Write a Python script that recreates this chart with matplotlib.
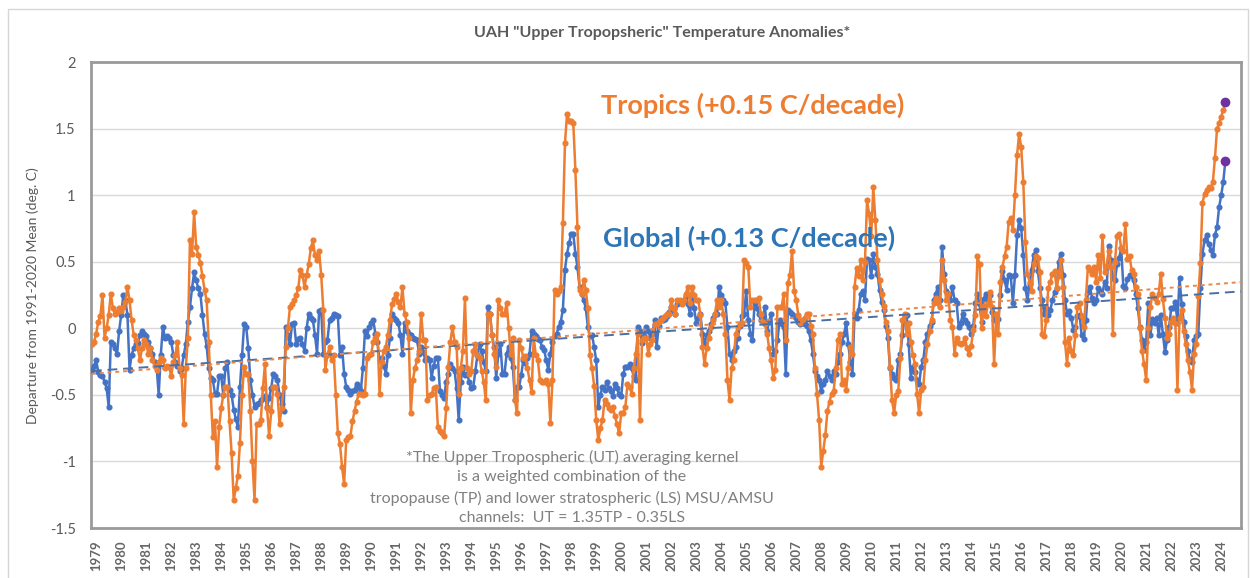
import numpy as np
import matplotlib.pyplot as plt
from matplotlib.patches import Rectangle

plt.rcParams['font.family'] = ['Lato', 'DejaVu Sans']

# monthly anomalies, deg C, Jan 1979 .. May 2024 (one row per year)
tropics = [
    -0.12, -0.10, -0.04, 0.05, 0.09, 0.25, -0.07, 0.00, 0.10, 0.26, 0.15, 0.11,
    0.12, 0.15, 0.13, 0.16, 0.20, 0.31, 0.21, 0.06, -0.05, -0.09, -0.15, -0.24,
    -0.15, -0.09, -0.12, -0.19, -0.15, -0.24, -0.28, -0.31, -0.25, -0.22, -0.24, -0.30,
    -0.28, -0.29, -0.36, -0.25, -0.20, -0.10, -0.30, -0.35, -0.72, -0.30, -0.07, 0.66,
    0.56, 0.87, 0.61, 0.55, 0.49, 0.39, 0.29, 0.21, -0.10, -0.50, -0.82, -0.70,
    -1.04, -0.74, -0.60, -0.50, -0.44, -0.44, -0.70, -0.94, -1.29, -1.20, -1.11, -0.86,
    -0.50, -0.29, -0.34, -0.34, -0.62, -1.00, -1.29, -0.72, -0.72, -0.69, -0.45, -0.27,
    -0.60, -0.81, -0.62, -0.44, -0.44, -0.49, -0.72, -0.60, -0.44, -0.14, 0.00, 0.16,
    0.18, 0.21, 0.25, 0.30, 0.44, 0.40, 0.31, 0.40, 0.48, 0.60, 0.66, 0.55,
    0.51, 0.58, 0.40, 0.14, -0.31, -0.20, -0.14, -0.24, -0.20, -0.50, -0.79, -0.87,
    -1.04, -1.17, -0.84, -0.82, -0.81, -0.70, -0.62, -0.55, -0.49, -0.49, -0.50, -0.49,
    -0.22, -0.20, -0.19, -0.10, -0.07, -0.04, -0.49, -0.25, -0.17, -0.14, -0.05, 0.06,
    0.18, 0.22, 0.26, 0.20, 0.16, 0.31, 0.11, 0.05, -0.07, -0.64, -0.39, -0.30,
    -0.24, -0.17, 0.11, -0.09, -0.09, -0.54, -0.50, -0.49, -0.45, -0.44, -0.74, -0.77,
    -0.79, -0.81, -0.60, -0.29, -0.10, 0.01, -0.10, -0.14, -0.49, -0.30, -0.17, 0.23,
    -0.30, -0.34, -0.32, -0.17, -0.12, -0.20, -0.22, -0.32, -0.40, -0.54, 0.11, 0.11,
    -0.05, -0.19, -0.29, 0.21, 0.15, 0.11, 0.11, 0.19, 0.00, -0.19, -0.07, -0.54,
    -0.64, -0.09, -0.15, -0.22, -0.21, -0.30, -0.39, -0.48, -0.07, -0.20, -0.24, -0.39,
    -0.40, -0.40, -0.39, -0.42, -0.71, -0.39, 0.29, 0.26, 0.28, 0.31, 0.79, 1.39,
    1.61, 1.56, 1.56, 1.54, 1.19, 0.76, 0.29, 0.26, 0.36, 0.29, 0.15, -0.20,
    -0.30, -0.43, -0.69, -0.84, -0.75, -0.69, -0.54, -0.57, -0.60, -0.61, -0.59, -0.66,
    -0.72, -0.79, -0.64, -0.64, -0.59, -0.42, -0.44, -0.49, -0.30, -0.19, -0.04, -0.69,
    -0.09, -0.07, -0.07, -0.19, -0.12, -0.09, 0.03, 0.03, 0.05, 0.06, 0.08, 0.09,
    0.11, 0.11, 0.21, 0.15, 0.11, 0.21, 0.21, 0.18, 0.21, 0.26, 0.31, 0.19,
    0.31, 0.25, 0.21, 0.21, 0.10, -0.14, -0.27, -0.15, -0.07, 0.01, 0.06, 0.11,
    0.21, 0.16, 0.21, 0.11, -0.04, -0.39, -0.54, -0.30, -0.24, -0.04, 0.01, 0.03,
    0.04, 0.51, 0.49, 0.46, 0.16, 0.21, 0.21, 0.21, 0.23, 0.11, 0.05, 0.03,
    -0.04, -0.15, -0.24, -0.37, -0.31, 0.16, 0.16, 0.16, 0.26, -0.09, 0.34, 0.40,
    0.58, 0.28, 0.21, 0.10, 0.04, 0.06, 0.08, 0.11, 0.11, 0.02, -0.04, -0.30,
    -0.49, -0.69, -1.04, -0.92, -0.80, -0.62, -0.55, -0.49, -0.47, -0.30, -0.09, -0.04,
    -0.42, -0.39, -0.46, -0.30, -0.14, -0.19, 0.31, 0.45, 0.39, 0.51, 0.36, 0.50,
    0.96, 0.86, 0.69, 1.06, 0.81, 0.51, 0.36, 0.26, 0.17, 0.05, -0.02, -0.29,
    -0.54, -0.64, -0.50, -0.47, -0.22, 0.06, 0.11, -0.04, 0.04, -0.10, -0.20, -0.27,
    -0.49, -0.64, -0.46, -0.44, -0.24, -0.12, -0.02, 0.06, 0.19, 0.23, 0.19, 0.16,
    0.51, 0.36, 0.21, 0.26, 0.06, 0.01, -0.19, -0.07, -0.11, -0.12, -0.11, -0.07,
    -0.15, -0.19, -0.13, -0.01, 0.10, 0.54, 0.48, 0.00, 0.17, 0.09, 0.18, 0.27,
    0.16, -0.27, 0.11, -0.04, 0.35, 0.46, 0.54, 0.61, 0.80, 0.83, 0.74, 1.00,
    1.30, 1.46, 1.36, 1.10, 0.65, 0.41, 0.35, 0.28, 0.48, 0.54, 0.53, 0.42,
    -0.04, -0.06, 0.06, 0.30, 0.35, 0.41, 0.43, 0.30, 0.39, 0.51, 0.31, -0.10,
    -0.27, -0.07, -0.17, -0.20, -0.05, 0.16, 0.19, 0.09, 0.01, 0.21, 0.46, 0.44,
    0.41, 0.46, 0.35, 0.55, 0.38, 0.69, 0.42, 0.47, 0.58, 0.46, -0.04, 0.50,
    0.69, 0.71, 0.60, 0.58, 0.78, 0.52, 0.54, 0.44, 0.41, 0.31, 0.26, 0.00,
    -0.17, -0.27, -0.39, 0.00, 0.16, 0.26, 0.23, 0.20, 0.26, 0.41, 0.22, 0.08,
    -0.07, -0.04, 0.05, 0.08, 0.04, -0.46, 0.08, 0.14, -0.02, -0.12, -0.24, -0.33,
    -0.46, -0.19, -0.12, 0.24, 0.49, 0.94, 1.01, 1.04, 1.06, 1.05, 1.10, 1.28,
    1.50, 1.54, 1.59, 1.64, 1.70,
]

global_ = [
    -0.31, -0.28, -0.24, -0.33, -0.35, -0.36, -0.40, -0.45, -0.59, -0.10, -0.12, -0.15,
    -0.19, -0.02, 0.10, 0.25, 0.21, 0.10, -0.31, -0.20, -0.15, -0.12, -0.11, -0.05,
    -0.02, -0.04, -0.06, -0.10, -0.15, -0.19, -0.25, -0.29, -0.50, -0.20, 0.01, -0.07,
    -0.06, -0.07, -0.10, -0.20, -0.25, -0.28, -0.32, -0.30, -0.20, -0.12, 0.05, 0.16,
    0.30, 0.42, 0.36, 0.30, 0.26, 0.10, -0.04, -0.13, -0.30, -0.37, -0.39, -0.49,
    -0.49, -0.36, -0.36, -0.50, -0.30, -0.25, -0.46, -0.50, -0.61, -0.68, -0.74, -0.44,
    -0.20, 0.03, 0.01, -0.15, -0.39, -0.50, -0.59, -0.57, -0.56, -0.54, -0.52, -0.51,
    -0.59, -0.52, -0.45, -0.34, -0.36, -0.39, -0.50, -0.57, -0.62, 0.01, -0.05, -0.12,
    0.03, 0.04, -0.12, -0.08, -0.07, -0.12, -0.17, 0.00, 0.11, 0.08, 0.06, -0.05,
    -0.19, 0.13, 0.14, -0.19, -0.10, -0.09, 0.06, 0.08, 0.11, 0.10, 0.09, -0.20,
    -0.14, -0.34, -0.44, -0.46, -0.49, -0.47, -0.46, -0.42, -0.44, -0.47, -0.30, -0.02,
    -0.06, 0.01, 0.04, 0.06, -0.04, -0.10, -0.24, -0.22, -0.28, -0.34, -0.20, -0.07,
    0.11, 0.08, 0.06, 0.04, -0.05, -0.19, 0.04, -0.02, -0.04, -0.05, -0.07, -0.08,
    -0.09, -0.19, -0.14, -0.18, -0.24, -0.22, -0.24, -0.37, -0.28, -0.22, -0.22, -0.47,
    -0.50, -0.52, -0.40, -0.34, -0.27, -0.30, -0.32, -0.45, -0.69, -0.40, -0.29, -0.35,
    -0.34, -0.40, -0.45, -0.44, -0.32, -0.20, -0.12, -0.17, -0.25, -0.32, 0.16, 0.11,
    -0.05, -0.14, -0.37, -0.19, -0.12, -0.34, -0.34, -0.19, -0.14, -0.22, -0.29, -0.54,
    -0.44, -0.44, -0.35, -0.24, -0.26, -0.22, -0.19, -0.02, -0.04, -0.06, -0.08, -0.09,
    -0.14, -0.16, -0.24, -0.31, -0.19, -0.10, -0.06, -0.04, 0.01, 0.05, 0.14, 0.44,
    0.56, 0.64, 0.71, 0.71, 0.56, 0.46, 0.31, 0.26, 0.21, 0.15, 0.01, -0.06,
    -0.05, -0.14, -0.24, -0.59, -0.50, -0.44, -0.46, -0.40, -0.45, -0.47, -0.51, -0.42,
    -0.45, -0.49, -0.51, -0.34, -0.29, -0.29, -0.27, -0.30, -0.36, -0.39, 0.01, -0.02,
    -0.11, -0.06, 0.01, -0.02, -0.07, -0.04, 0.06, -0.14, 0.02, 0.08, 0.06, 0.07,
    0.09, 0.12, 0.16, 0.13, 0.11, 0.18, 0.19, 0.19, 0.21, 0.24, 0.18, 0.11,
    0.23, 0.15, 0.04, 0.08, 0.11, -0.04, -0.12, -0.05, -0.02, 0.03, 0.08, 0.11,
    0.11, 0.31, 0.25, 0.21, 0.19, 0.01, -0.19, -0.24, -0.17, -0.14, -0.07, 0.02,
    0.09, 0.11, 0.28, 0.06, -0.04, -0.09, 0.19, 0.15, 0.11, 0.06, 0.08, 0.16,
    -0.02, 0.05, 0.11, -0.19, -0.17, -0.09, 0.06, 0.03, 0.01, -0.34, 0.14, 0.12,
    0.11, 0.09, 0.08, 0.05, 0.03, 0.04, 0.03, 0.02, -0.02, -0.09, -0.19, -0.32,
    -0.36, -0.39, -0.47, -0.42, -0.39, -0.32, -0.36, -0.39, -0.32, -0.34, -0.25, -0.19,
    -0.10, -0.04, 0.04, -0.12, -0.25, -0.34, 0.11, 0.08, 0.14, 0.26, 0.28, 0.21,
    0.52, 0.51, 0.39, 0.56, 0.46, 0.41, 0.29, 0.20, 0.14, 0.02, -0.07, -0.30,
    -0.34, -0.37, -0.39, -0.24, -0.19, -0.05, 0.09, 0.10, -0.12, -0.37, -0.29, -0.33,
    -0.39, -0.42, -0.29, -0.24, -0.10, -0.04, 0.02, 0.05, 0.21, 0.26, 0.31, 0.21,
    0.61, 0.41, 0.28, 0.26, 0.21, 0.31, 0.21, 0.19, 0.01, 0.04, 0.11, 0.06,
    0.04, 0.01, -0.04, 0.02, 0.19, 0.26, 0.18, 0.05, 0.22, 0.26, 0.21, 0.25,
    0.12, 0.06, 0.06, 0.07, 0.25, 0.43, 0.36, 0.29, 0.40, 0.39, 0.19, 0.40,
    0.70, 0.81, 0.75, 0.55, 0.30, 0.21, 0.33, 0.44, 0.55, 0.59, 0.43, 0.30,
    0.21, 0.11, 0.15, 0.10, 0.14, 0.21, 0.27, 0.30, 0.50, 0.56, 0.40, 0.21,
    0.11, 0.13, 0.08, -0.01, 0.01, 0.09, 0.10, -0.05, -0.08, 0.06, 0.27, 0.31,
    0.23, 0.19, 0.21, 0.30, 0.28, 0.26, 0.35, 0.30, 0.62, 0.51, 0.38, 0.36,
    0.48, 0.53, 0.60, 0.32, 0.30, 0.37, 0.40, 0.39, 0.36, 0.26, 0.15, 0.01,
    -0.09, -0.16, -0.10, 0.19, -0.05, 0.07, 0.04, 0.08, -0.05, 0.10, -0.04, -0.18,
    -0.09, 0.01, 0.15, 0.15, 0.20, 0.04, 0.38, 0.18, 0.05, -0.06, -0.17, -0.24,
    -0.25, -0.09, -0.06, -0.04, 0.30, 0.56, 0.66, 0.70, 0.63, 0.59, 0.55, 0.70,
    0.76, 0.91, 1.00, 1.10, 1.26,
]

years = list(range(1979, 2025))
tropics_trend = 0.15   # C/decade
global_trend = 0.13

orange = '#ED7D31'
blue = '#4472C4'
grey = '#595959'

months = np.arange(len(tropics))

fig = plt.figure(figsize=(12.5, 5.78), dpi=100)
ax = fig.add_axes([91 / 1250, 1 - 528 / 578, 1150 / 1250, 466 / 578])

ax.plot(months, global_, color=blue, lw=1.8, marker='o', ms=3.4, zorder=3)
ax.plot(months, tropics, color=orange, lw=1.8, marker='o', ms=3.4, zorder=4)

# latest month in purple
ax.plot(months[-1], tropics[-1], 'o', color='#7030A0', ms=6, zorder=6)
ax.plot(months[-1], global_[-1], 'o', color='#7030A0', ms=6, zorder=6)

# linear trends with the stated slopes, intercept from the data mean
xx = np.array([0, 551.5])
for vals, slope, col, dash in [(global_, global_trend, '#4A6FA5', (0, (5, 3))),
                               (tropics, tropics_trend, '#E8874A', (0, (2, 2)))]:
    s = slope / 120.0
    b = np.mean(vals) - s * months.mean()
    ax.plot(xx, b + s * xx, color=col, lw=1.4, linestyle=dash, zorder=5)

ax.set_xlim(-0.5, 551.5)
ax.set_ylim(-1.5, 2)
ax.set_yticks(np.arange(-1.5, 2.01, 0.5))
ax.set_yticklabels([f'{v:g}' for v in np.arange(-1.5, 2.01, 0.5)])
ax.yaxis.grid(True, color='#D9D9D9', lw=1)
ax.set_axisbelow(True)

ax.set_xticks([12 * k + 2 for k in range(len(years))])
ax.set_xticklabels([str(y) for y in years], rotation=90, fontsize=9.5,
                   fontweight='bold', color='#666666')
ax.tick_params(axis='x', length=0, pad=9)
ax.tick_params(axis='y', length=0, pad=11, labelsize=10.5, labelcolor=grey)

for sp in ax.spines.values():
    sp.set_color('#9A9A9A')
    sp.set_linewidth(2)

fig.text(33 / 1250, 1 - 296 / 578, 'Departure from 1991-2020 Mean (deg. C)',
         rotation=90, ha='center', va='center', fontsize=10, color=grey)
fig.text(662 / 1250, 1 - 33 / 578, 'UAH "Upper Tropopsheric" Temperature Anomalies*',
         ha='center', va='center', fontsize=11.5, fontweight='bold', color=grey)

fig.text(601 / 1250, 1 - 105 / 578, f'Tropics (+{tropics_trend:.2f} C/decade)',
         ha='left', va='center', fontsize=19.5, fontweight='bold', color=orange)
fig.text(603 / 1250, 1 - 238 / 578, f'Global (+{global_trend:.2f} C/decade)',
         ha='left', va='center', fontsize=19.5, fontweight='bold', color='#2E75B6')

note = ['*The Upper Tropospheric (UT) averaging kernel',
        'is a weighted combination of the',
        'tropopause (TP) and lower stratospheric (LS) MSU/AMSU',
        'channels:  UT = 1.35TP - 0.35LS']
for i, line in enumerate(note):
    fig.text(572 / 1250, 1 - (457 + 20.5 * i) / 578, line, ha='center', va='center',
             fontsize=11.5, color='#808080')

fig.patches.append(Rectangle((8 / 1250, -0.05), 1240 / 1250, 1.05 - 9 / 578,
                             transform=fig.transFigure, fill=False,
                             ec='#D6D6D6', lw=1))

fig.savefig('out.png', dpi=100)
